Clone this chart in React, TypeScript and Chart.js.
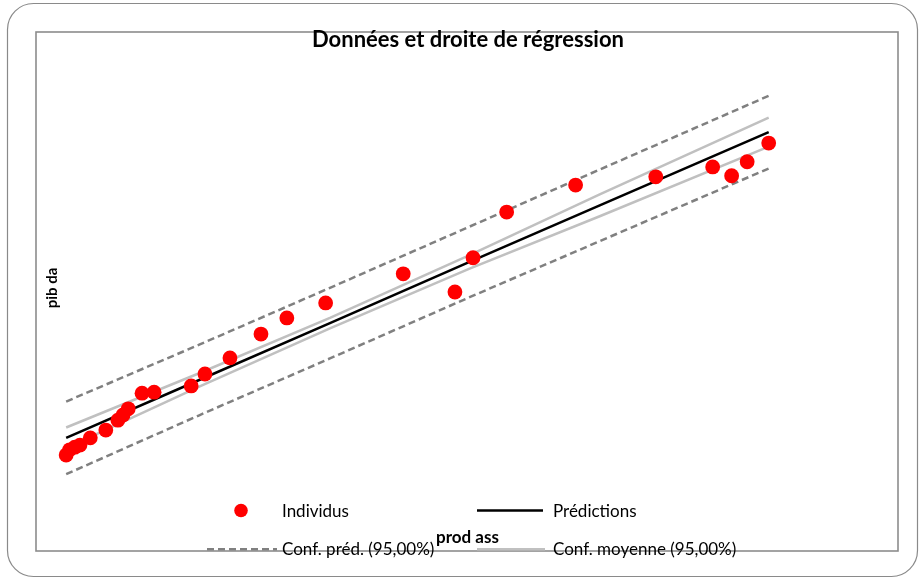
import React, { useEffect, useRef } from "react";
import { Chart, registerables } from "chart.js";

Chart.register(...registerables);

const prodAss = [3.5, 3.9, 4.5, 5.1, 6.3, 8.1, 9.5, 10.1, 10.7, 12.3, 13.7, 18.0, 19.6, 22.5, 26.1, 29.1, 33.6, 42.6, 48.6, 50.7, 54.6, 62.6, 71.9, 78.5, 80.7, 82.5, 85.0];
const pibDa = [18.5, 19.5, 20.0, 20.4, 21.8, 23.3, 25.2, 26.2, 27.4, 30.4, 30.6, 31.8, 34.1, 37.2, 41.8, 44.9, 47.8, 53.4, 49.9, 56.5, 65.3, 70.5, 72.1, 74.0, 72.3, 75.0, 78.6];

// Regression line and 95% bands
const lineX = [3.5, 19.0, 34.1, 50.3, 65.4, 85.0];
const predictions = [21.8, 33.0, 43.9, 55.7, 66.6, 80.7];
const confPredUpper = [28.8, 39.8, 50.7, 62.5, 73.5, 87.7];
const confPredLower = [14.8, 26.2, 37.1, 48.9, 59.7, 73.7];
const confMeanUpper = [23.8, 34.3, 44.9, 57.0, 68.7, 83.5];
const confMeanLower = [19.8, 31.7, 42.9, 54.4, 64.5, 77.9];

const chartTitle = "Données et droite de régression";
const xTitle = "prod ass";
const yTitle = "pib da";
const labels = ["Individus", "Prédictions", "Conf. préd. (95,00%)", "Conf. moyenne (95,00%)"];

const FONT = "Lato, 'Open Sans', sans-serif";

const toXY = (xs: number[], ys: number[]) => xs.map((x, i) => ({ x, y: ys[i] }));

const framePlugin = {
  id: "frame",
  beforeDraw(chart: any) {
    const ctx = chart.ctx;
    ctx.save();
    ctx.fillStyle = "#ffffff";
    ctx.fillRect(0, 0, chart.width, chart.height);
    ctx.strokeStyle = "#8a8a8a";
    ctx.lineWidth = 1.2;
    ctx.beginPath();
    (ctx as any).roundRect(7.5, 3.5, 910, 573, 26);
    ctx.stroke();
    ctx.restore();
  },
  beforeDatasetsDraw(chart: any) {
    const ctx = chart.ctx;
    const a = chart.chartArea;
    ctx.save();
    ctx.strokeStyle = "#8c8c8c";
    ctx.lineWidth = 1.6;
    ctx.strokeRect(a.left, a.top, a.right - a.left, a.bottom - a.top);
    ctx.restore();
  },
  afterDraw(chart: any) {
    const ctx = chart.ctx;
    const ds = chart.data.datasets;
    ctx.save();
    ctx.fillStyle = "#000000";
    // title
    ctx.font = `bold 22px ${FONT}`;
    ctx.textAlign = "center";
    ctx.textBaseline = "alphabetic";
    ctx.fillText(chartTitle, 468, 47);
    // x title
    ctx.font = `bold 17px ${FONT}`;
    ctx.fillText(xTitle, 467.5, 543);
    // y title
    ctx.font = `bold 15px ${FONT}`;
    ctx.save();
    ctx.translate(57, 288);
    ctx.rotate(-Math.PI / 2);
    ctx.fillText(yTitle, 0, 0);
    ctx.restore();

    // legend
    ctx.font = `17px ${FONT}`;
    ctx.textAlign = "left";
    const row1 = 510.5;
    const row2 = 549.3;
    // Individus
    ctx.fillStyle = ds[0].backgroundColor;
    ctx.beginPath();
    ctx.arc(241, row1, 6.8, 0, Math.PI * 2);
    ctx.fill();
    // line samples
    const sample = (d: any, x0: number, x1: number, y: number) => {
      ctx.save();
      ctx.strokeStyle = d.borderColor;
      ctx.lineWidth = d.borderWidth;
      ctx.setLineDash(d.borderDash || []);
      ctx.beginPath();
      ctx.moveTo(x0, y);
      ctx.lineTo(x1, y);
      ctx.stroke();
      ctx.restore();
    };
    sample(ds[1], 477, 543, row1);
    sample(ds[2], 207, 277, row2);
    sample(ds[4], 477, 545, row2);
    ctx.fillStyle = "#000000";
    ctx.fillText(labels[0], 282, row1 + 6);
    ctx.fillText(labels[1], 553, row1 + 6);
    ctx.fillText(labels[2], 282, row2 + 6);
    ctx.fillText(labels[3], 553, row2 + 6);
    ctx.restore();
  },
};

export default function App() {
  const ref = useRef<HTMLCanvasElement | null>(null);
  useEffect(() => {
    if (!ref.current) return;
    const lineBase = { showLine: true, pointRadius: 0, fill: false, borderWidth: 2.5, tension: 0 };
    const chart = new Chart(ref.current, {
      type: "scatter",
      data: {
        datasets: [
          {
            label: labels[0],
            data: toXY(prodAss, pibDa),
            backgroundColor: "#ff0000",
            borderColor: "#ff0000",
            borderWidth: 0,
            pointRadius: 7.4,
          },
          { ...lineBase, label: labels[1], data: toXY(lineX, predictions), borderColor: "#000000", backgroundColor: "#000000" },
          { ...lineBase, label: labels[2], data: toXY(lineX, confPredUpper), borderColor: "#808080", borderDash: [7, 4] },
          { ...lineBase, label: labels[2], data: toXY(lineX, confPredLower), borderColor: "#808080", borderDash: [7, 4] },
          { ...lineBase, label: labels[3], data: toXY(lineX, confMeanUpper), borderColor: "#c0c0c0" },
          { ...lineBase, label: labels[3], data: toXY(lineX, confMeanLower), borderColor: "#c0c0c0" },
        ],
      } as any,
      options: {
        responsive: false,
        animation: false,
        layout: { padding: { left: 36, top: 32, right: 22, bottom: 28 } },
        scales: {
          x: { type: "linear", min: 0, max: 100, display: false },
          y: { type: "linear", min: 0, max: 100, display: false },
        },
        plugins: {
          legend: { display: false },
          title: { display: false },
          tooltip: { enabled: false },
        },
      } as any,
      plugins: [framePlugin],
    });
    return () => chart.destroy();
  }, []);
  return (
    <div style={{ position: "absolute", left: 0, top: 0, width: 920, height: 579 }}>
      <canvas ref={ref} width={920} height={579} style={{ display: "block" }} />
    </div>
  );
}
